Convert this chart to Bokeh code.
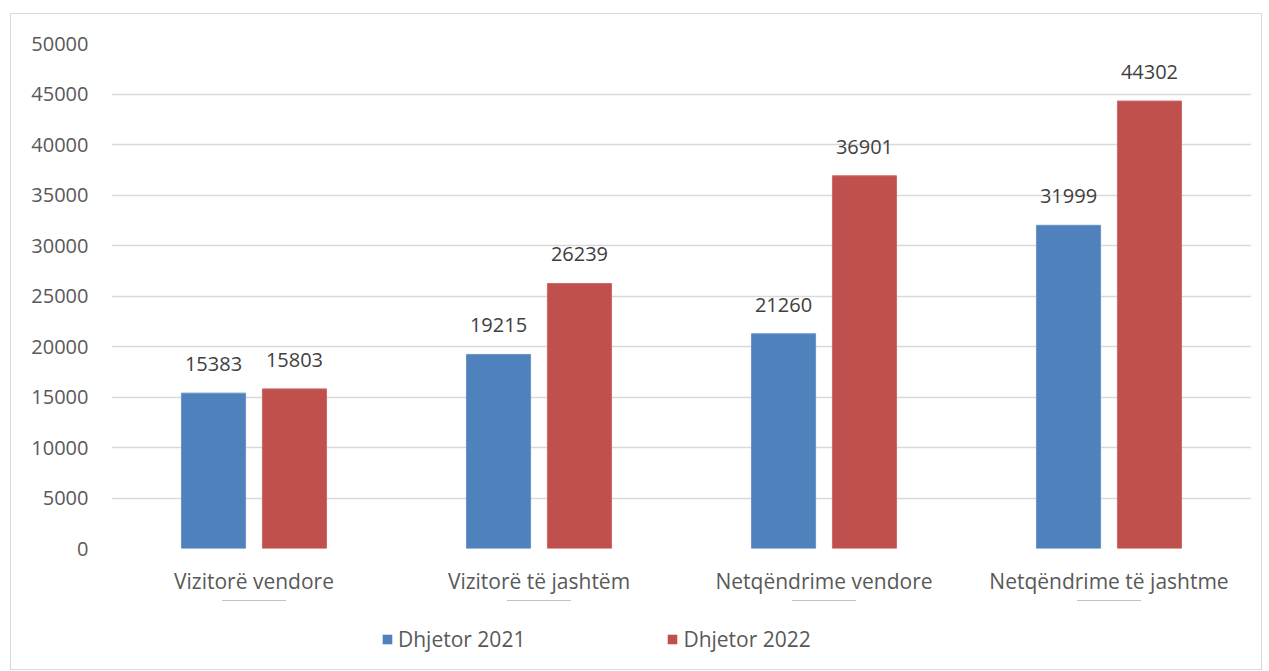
from bokeh.plotting import figure
from bokeh.layouts import column
from bokeh.models import (ColumnDataSource, FactorRange, Range1d, LabelSet, Legend, LegendItem,
                          SingleIntervalTicker, NumeralTickFormatter)
from bokeh.transform import dodge
from bokeh.core.properties import value
from bokeh.embed import file_html
from bokeh.resources import INLINE

categories = ["Vizitorë vendore", "Vizitorë të jashtëm", "Netqëndrime vendore", "Netqëndrime të jashtme"]
dhjetor_2021 = [15383, 19215, 21260, 31999]
dhjetor_2022 = [15803, 26239, 36901, 44302]
series_names = ["Dhjetor 2021", "Dhjetor 2022"]

src = ColumnDataSource(data=dict(
    cat=categories,
    v1=dhjetor_2021,
    v2=dhjetor_2022,
    t1=[str(v) for v in dhjetor_2021],
    t2=[str(v) for v in dhjetor_2022],
))

FONT = "Open Sans"
BLUE, RED = "#4f81bd", "#c0504d"
xr = FactorRange(factors=categories, range_padding=0)

p = figure(width=1250, height=586, output_backend="svg", toolbar_location=None,
           x_range=xr, y_range=Range1d(0, 50000),
           min_border_left=100, min_border_right=10, min_border_top=29, min_border_bottom=52)
p.outline_line_color = None
p.background_fill_color = "white"
p.border_fill_color = "white"

p.vbar(x=dodge("cat", -0.142, range=xr), top="v1", width=0.225, source=src,
       fill_color=BLUE, line_color="#6a93c8", line_width=1)
p.vbar(x=dodge("cat", 0.142, range=xr), top="v2", width=0.225, source=src,
       fill_color=RED, line_color="#cc6a67", line_width=1)

for xo, col, ycol in [(-0.142, "t1", "v1"), (0.142, "t2", "v2")]:
    lbl = LabelSet(x=dodge("cat", xo, range=xr), y=ycol, text=col, source=src,
                   text_align="center", text_baseline="bottom", y_offset=22,
                   text_font=value(FONT), text_font_size="20px", text_color="#404040")
    p.add_layout(lbl)

p.yaxis.ticker = SingleIntervalTicker(interval=5000)
p.yaxis.formatter = NumeralTickFormatter(format="0")
for ax in (p.xaxis[0], p.yaxis[0]):
    ax.axis_line_color = None
    ax.major_tick_line_color = None
    ax.minor_tick_line_color = None
    ax.major_tick_out = 0
    ax.major_tick_in = 0
    ax.minor_tick_out = 0
    ax.major_label_text_font = FONT
    ax.major_label_text_color = "#595959"
p.yaxis.major_label_text_font_size = "20px"
p.xaxis.major_label_text_font_size = "21px"
p.yaxis.major_label_standoff = 23
p.xaxis.major_label_standoff = 18
p.xgrid.grid_line_color = None
p.ygrid.grid_line_color = "#d9d9d9"
p.ygrid.grid_line_width = 1.5

# legend strip below the chart (its bars fall far outside its y range, only the legend shows)
lf = figure(width=1250, height=69, output_backend="svg", toolbar_location=None,
            x_range=xr, y_range=Range1d(-200000, -100000),
            x_axis_location=None, y_axis_location=None, min_border=0)
lf.outline_line_color = None
lf.grid.visible = False
lf.border_fill_color = "white"
lf.background_fill_color = "white"
lr1 = lf.vbar(x="cat", top="v1", width=0.225, source=src, fill_color=BLUE, line_color=None)
lr2 = lf.vbar(x="cat", top="v2", width=0.225, source=src, fill_color=RED, line_color=None)
legend = Legend(items=[LegendItem(label=series_names[0], renderers=[lr1]),
                       LegendItem(label=series_names[1], renderers=[lr2])],
                orientation="horizontal", location=(270, 16),
                glyph_width=12, glyph_height=12, label_standoff=5, spacing=141,
                label_text_font=FONT, label_text_font_size="21px", label_text_color="#595959",
                border_line_color=None, background_fill_alpha=0, padding=5, margin=0)
lf.add_layout(legend, "center")

layout = column(p, lf, spacing=0)
layout.margin = (13, 0, 0, 10)
layout.styles = {"border": "1.5px solid #d9d9d9"}

open("out.html", "w").write(file_html(layout, INLINE))
